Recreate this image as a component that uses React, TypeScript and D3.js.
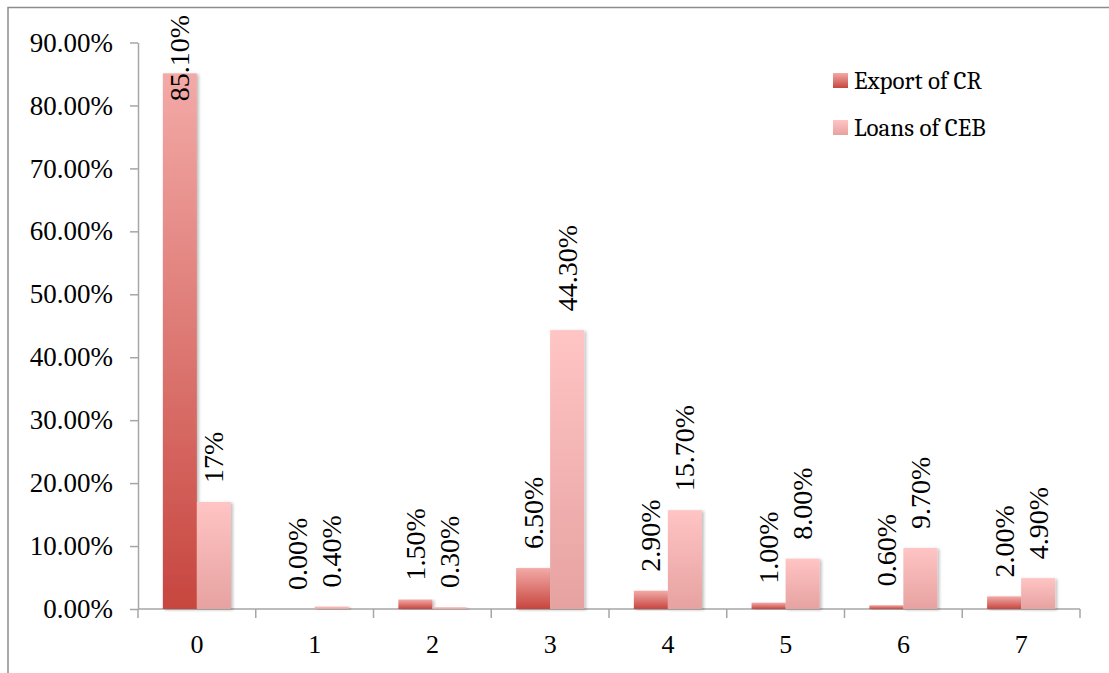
import React, { useEffect, useRef } from 'react';
import * as d3 from 'd3';

// chart values
const categories = ['0', '1', '2', '3', '4', '5', '6', '7'];
const exportOfCR = [0.851, 0.0, 0.015, 0.065, 0.029, 0.01, 0.006, 0.02];
const loansOfCEB = [0.17, 0.004, 0.003, 0.443, 0.157, 0.08, 0.097, 0.049];
const exportLabels = ['85.10%', '0.00%', '1.50%', '6.50%', '2.90%', '1.00%', '0.60%', '2.00%'];
const loansLabels = ['17%', '0.40%', '0.30%', '44.30%', '15.70%', '8.00%', '9.70%', '4.90%'];
const yTicks = [0, 0.1, 0.2, 0.3, 0.4, 0.5, 0.6, 0.7, 0.8, 0.9];
const seriesNames = ['Export of CR', 'Loans of CEB'];

const W = 1109;
const H = 673;
const FONT = '"Liberation Serif", Tinos, serif';
const LEGEND_FONT = 'Cambria, Caladea, "Liberation Serif", serif';

const App = () => {
  const svgRef = useRef<SVGSVGElement>(null);

  useEffect(() => {
    const svg = d3.select(svgRef.current);
    svg.selectAll('*').remove();

    const axisColor = '#a6a6a6';
    const left = 138;
    const right = 1080;
    const top = 42.5;
    const bottom = 609;

    const defs = svg.append('defs');
    const grads = [
      { id: 'gExport', top: '#f3aaa7', bottom: '#c7463f' },
      { id: 'gLoans', top: '#ffc4c4', bottom: '#e6a2a0' },
    ];
    grads.forEach(g => {
      const lg = defs.append('linearGradient')
        .attr('id', g.id)
        .attr('x1', 0).attr('y1', 0).attr('x2', 0).attr('y2', 1);
      lg.append('stop').attr('offset', '0%').attr('stop-color', g.top);
      lg.append('stop').attr('offset', '100%').attr('stop-color', g.bottom);
    });
    defs.append('filter')
      .attr('id', 'shadow')
      .attr('x', '-20%').attr('y', '-5%').attr('width', '150%').attr('height', '115%')
      .append('feDropShadow')
      .attr('dx', 2).attr('dy', 1).attr('stdDeviation', 1.5)
      .attr('flood-color', '#000').attr('flood-opacity', 0.25);

    // outer frame (only top and left edges are visible)
    svg.append('rect')
      .attr('x', 8).attr('y', 7.5)
      .attr('width', 1200).attr('height', 800)
      .attr('fill', 'none')
      .attr('stroke', '#8c8c8c')
      .attr('stroke-width', 1.5);

    // scales
    const x0 = d3.scaleBand<string>().domain(categories).range([left, right]).padding(0);
    const x1 = d3.scaleBand<string>()
      .domain(['export', 'loans'])
      .range([0, x0.bandwidth()])
      .paddingInner(0)
      .paddingOuter(0.73);
    const y = d3.scaleLinear().domain([0, 0.9]).range([bottom, top]);

    // y axis
    const yAxis = svg.append('g')
      .attr('transform', `translate(${left},0)`)
      .call(d3.axisLeft(y)
        .tickValues(yTicks)
        .tickFormat(d3.format('.2%'))
        .tickSize(8)
        .tickSizeOuter(0)
        .tickPadding(17));
    yAxis.select('.domain').attr('stroke', axisColor).attr('stroke-width', 1.5);
    yAxis.selectAll('.tick line').attr('stroke', axisColor).attr('stroke-width', 1.5);
    yAxis.selectAll('.tick text')
      .style('font-family', FONT)
      .style('font-size', '27px')
      .attr('fill', '#000');

    // x axis
    const xg = svg.append('g');
    xg.append('line')
      .attr('x1', left).attr('x2', right)
      .attr('y1', bottom).attr('y2', bottom)
      .attr('stroke', axisColor).attr('stroke-width', 1.5);
    const boundaries = categories.map(c => x0(c) as number).concat([right]);
    xg.selectAll('line.tick')
      .data(boundaries)
      .enter().append('line')
      .attr('class', 'tick')
      .attr('x1', d => d).attr('x2', d => d)
      .attr('y1', bottom).attr('y2', bottom + 9)
      .attr('stroke', axisColor).attr('stroke-width', 1.5);
    xg.selectAll('text')
      .data(categories)
      .enter().append('text')
      .attr('x', d => (x0(d) as number) + x0.bandwidth() / 2)
      .attr('y', 653)
      .attr('text-anchor', 'middle')
      .style('font-family', FONT)
      .style('font-size', '26px')
      .attr('fill', '#000')
      .text(d => d);

    // bars
    const series = [
      { key: 'export', values: exportOfCR, labels: exportLabels, fill: 'url(#gExport)' },
      { key: 'loans', values: loansOfCEB, labels: loansLabels, fill: 'url(#gLoans)' },
    ];
    series.forEach(s => {
      svg.append('g')
        .selectAll('rect')
        .data(s.values)
        .enter().append('rect')
        .attr('x', (d, i) => (x0(categories[i]) as number) + (x1(s.key) as number))
        .attr('y', d => y(d))
        .attr('width', x1.bandwidth())
        .attr('height', d => bottom - y(d))
        .attr('fill', s.fill)
        .attr('filter', d => (d > 0 ? 'url(#shadow)' : null));
    });

    // data labels, rotated, placed above each bar and kept inside the frame
    series.forEach(s => {
      s.values.forEach((v, i) => {
        const cx = (x0(categories[i]) as number) + (x1(s.key) as number) + x1.bandwidth() / 2;
        const t = svg.append('text')
          .style('font-family', FONT)
          .style('font-size', '28px')
          .attr('fill', '#000')
          .attr('dominant-baseline', 'central')
          .attr('text-anchor', 'start')
          .text(s.labels[i]);
        const len = (t.node() as SVGTextElement).getComputedTextLength();
        const startY = Math.max(y(v) - 19, 15 + len);
        t.attr('transform', `translate(${cx},${startY}) rotate(-90)`);
      });
    });

    // legend
    const legend = svg.append('g')
      .selectAll('g')
      .data(seriesNames)
      .enter().append('g')
      .attr('transform', (d, i) => `translate(833, ${73 + i * 47})`);
    legend.append('rect')
      .attr('width', 15).attr('height', 15)
      .attr('fill', (d, i) => series[i].fill);
    legend.append('text')
      .attr('x', 21)
      .attr('y', 16)
      .style('font-family', LEGEND_FONT)
      .style('font-size', '25px')
      .attr('fill', '#000')
      .text(d => d);
  }, []);

  return (
    <svg
      ref={svgRef}
      width={W}
      height={H}
      style={{ position: 'absolute', left: 0, top: 0, background: '#fff' }}
    />
  );
};

export default App;
